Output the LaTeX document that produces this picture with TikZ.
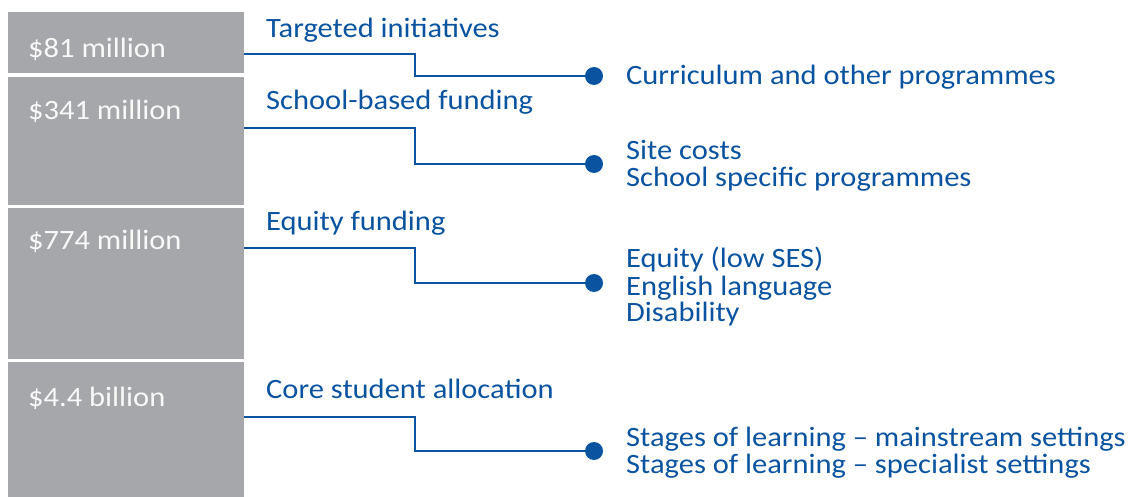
\documentclass[tikz,border=0pt]{standalone}
\usepackage{fontspec}
\setmainfont[FakeStretch=1.09]{Carlito}
\definecolor{barg}{HTML}{A6A7AA}
\definecolor{fblue}{HTML}{0A53A0}
\begin{document}
\begin{tikzpicture}[x=1pt,y=-1pt,
  bar/.style={fill=barg,draw=none,anchor=north west,inner sep=0pt,minimum width=236pt},
  amt/.style={text=white!95!gray,anchor=base west,font=\fontsize{28}{28}\selectfont,inner sep=0pt},
  head/.style={text=fblue,anchor=base west,font=\fontsize{28}{28}\selectfont,inner sep=0pt},
  item/.style={text=fblue,anchor=base west,font=\fontsize{28}{28}\selectfont,inner sep=0pt},
  dot/.style={circle,fill=fblue,inner sep=0pt,minimum size=18pt},
  link/.style={draw=fblue,line width=2.9pt}]
\useasboundingbox (0,0) rectangle (1136,497);
% bars
\node[bar,minimum height=61pt] (b1) at (8,12) {};
\node[bar,minimum height=128pt] (b2) at (8,77) {};
\node[bar,minimum height=151pt] (b3) at (8,208) {};
\node[bar,minimum height=137pt] (b4) at (8,362) {};
% amounts
\node[amt] (a1) at (28,58) {\$81 million};
\node[amt] (a2) at (28,120) {\$341 million};
\node[amt] (a3) at (28,250) {\$774 million};
\node[amt] (a4) at (28,406) {\$4.4 billion};
% headings
\node[head] (h1) at (266,38) {Targeted initiatives};
\node[head] (h2) at (266,110) {School-based funding};
\node[head] (h3) at (266,231) {Equity funding};
\node[head] (h4) at (266,398) {Core student allocation};
% dots
\node[dot] (d1) at (594,76) {};
\node[dot] (d2) at (594,164) {};
\node[dot] (d3) at (594,283) {};
\node[dot] (d4) at (594,451) {};
% items
\node[item] (i1) at (626,85) {Curriculum and other programmes};
\node[item] (i2a) at (626,160) {Site costs};
\node[item] (i2b) at (626,187) {School specific programmes};
\node[item] (i3a) at (626,268) {Equity (low SES)};
\node[item] (i3b) at (626,295) {English language};
\node[item] (i3c) at (626,322) {Disability};
\node[item] (i4a) at (626,446) {Stages of learning -- mainstream settings};
\node[item] (i4b) at (626,473) {Stages of learning -- specialist settings};
% connector starts
\coordinate (s1) at (244,54);
\coordinate (s2) at (244,128);
\coordinate (s3) at (244,248);
\coordinate (s4) at (244,417);
\draw[link] (s1) -- ++(171,0) |- (d1);
\draw[link] (s2) -- ++(171,0) |- (d2);
\draw[link] (s3) -- ++(171,0) |- (d3);
\draw[link] (s4) -- ++(171,0) |- (d4);
\end{tikzpicture}
\end{document}
